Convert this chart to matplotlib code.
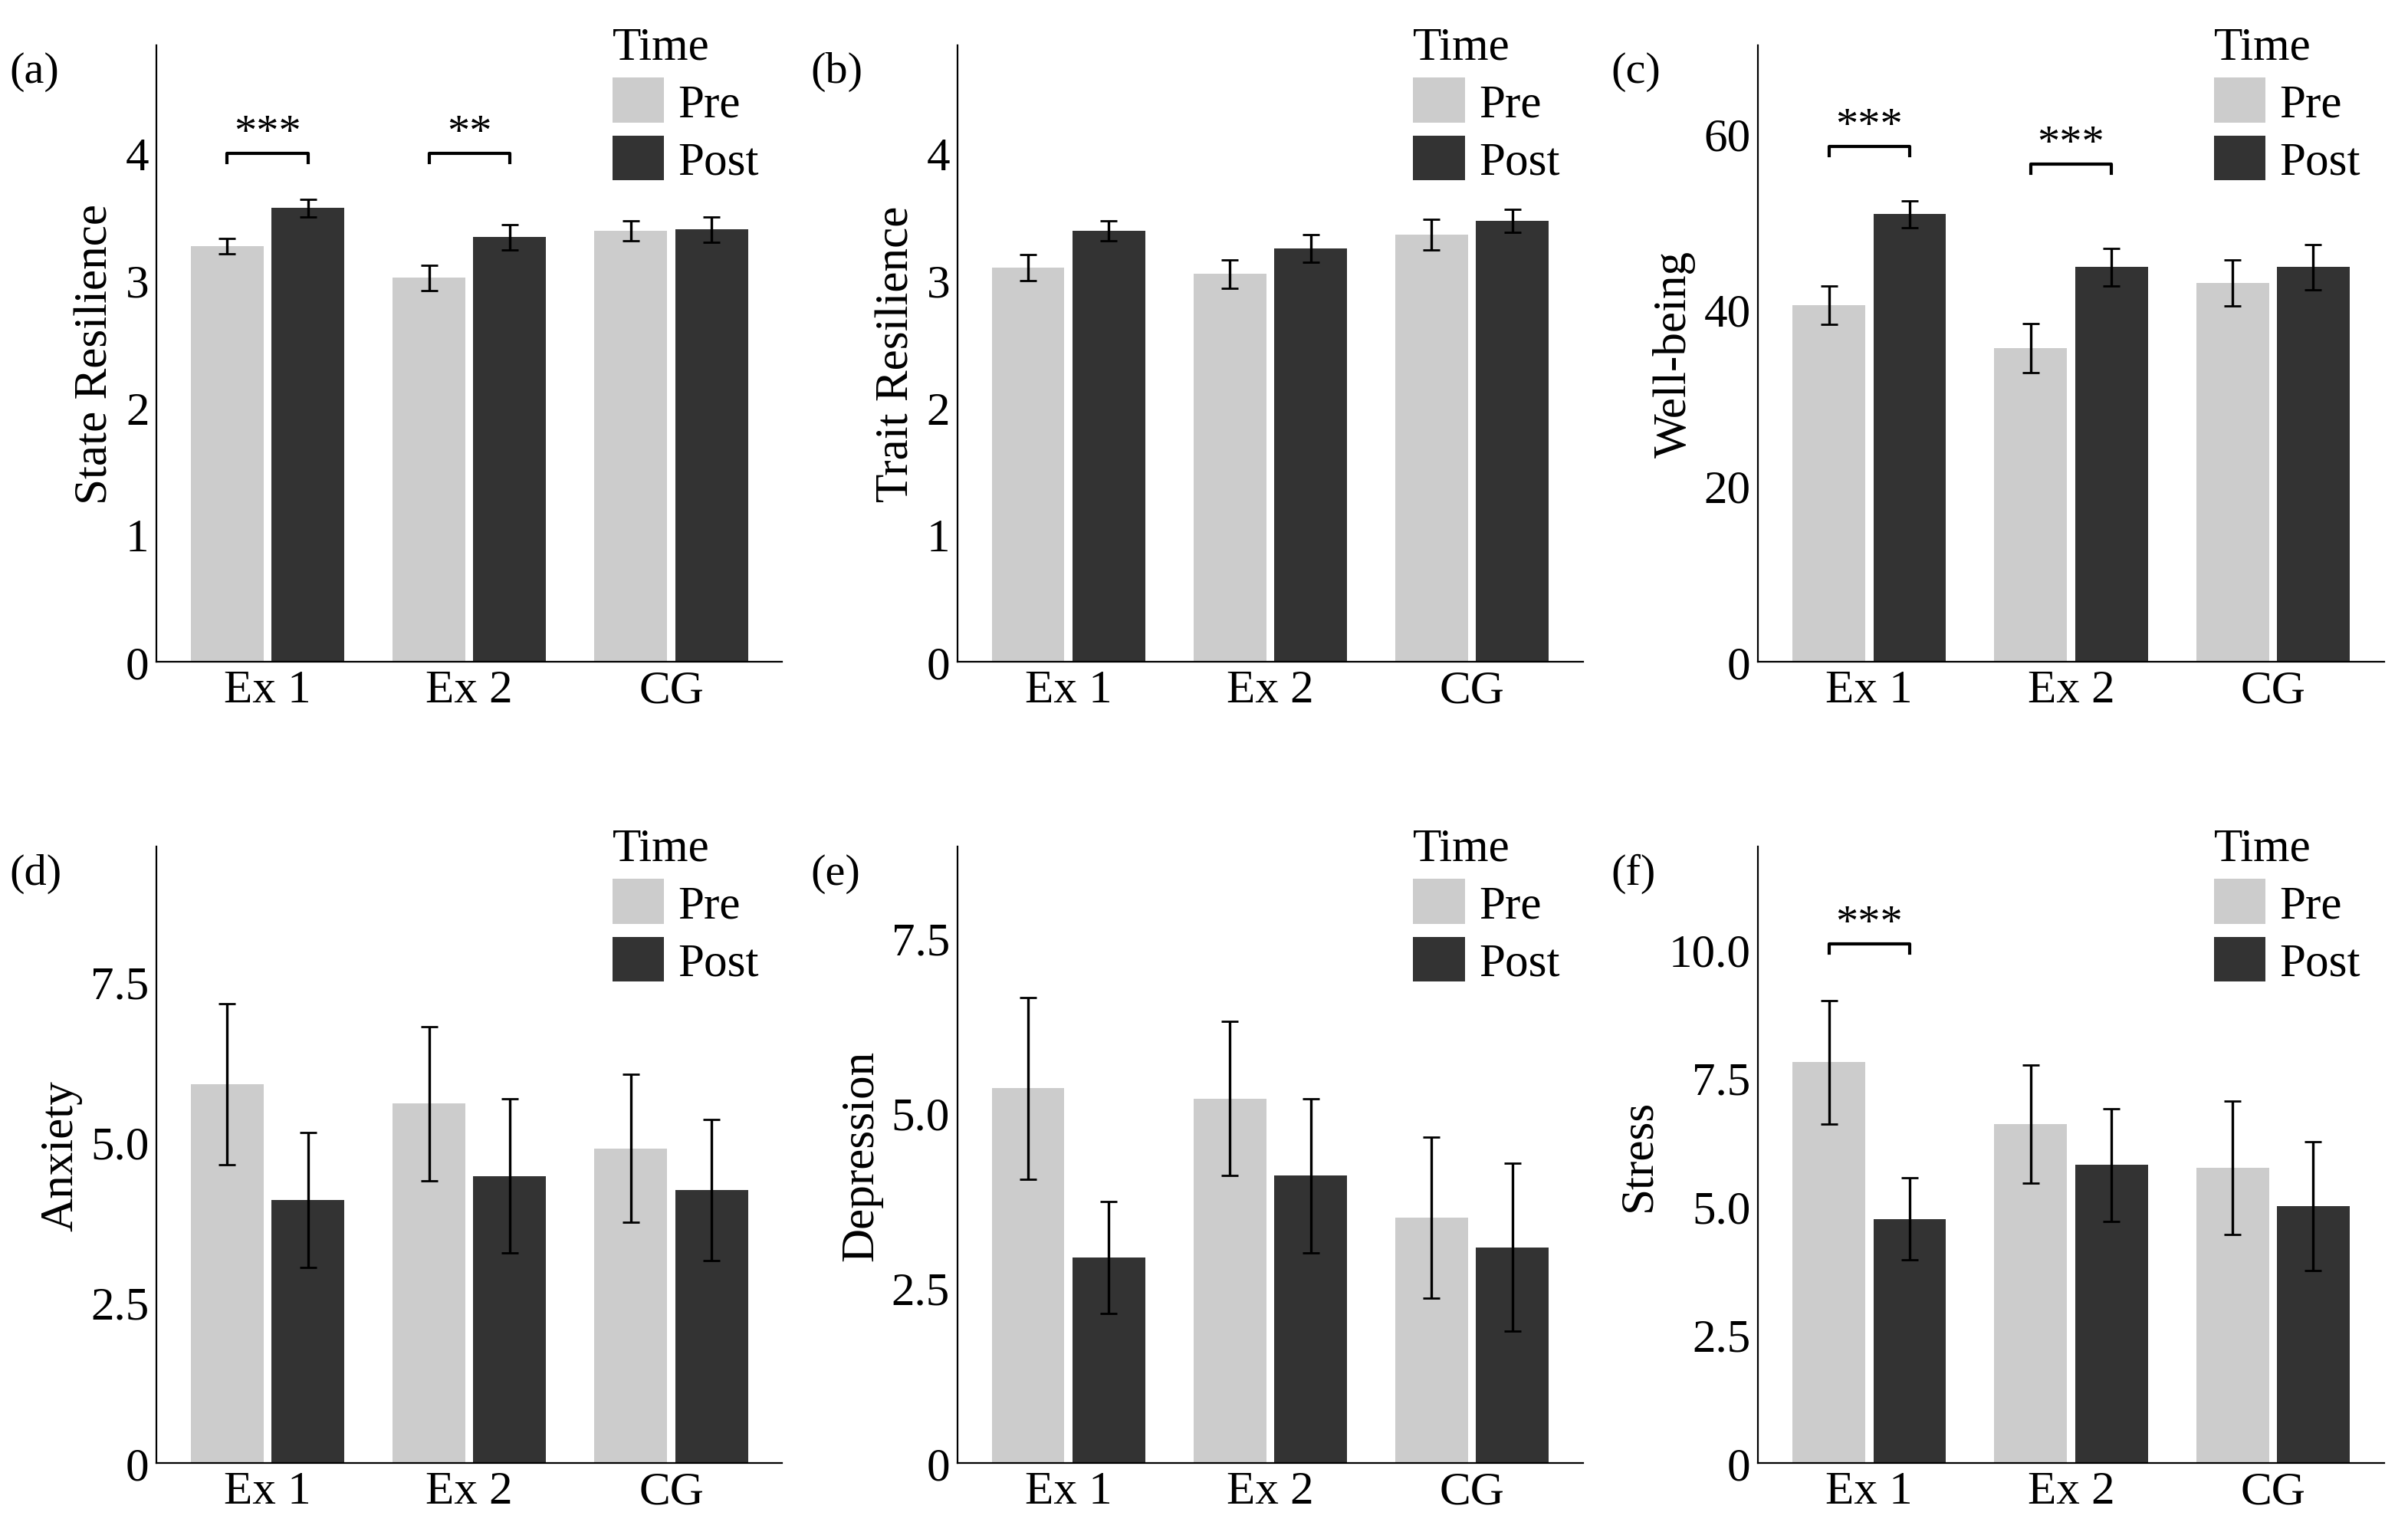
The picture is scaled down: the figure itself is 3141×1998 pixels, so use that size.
import matplotlib.pyplot as plt
import numpy as np

plt.rcParams['font.family'] = ['Liberation Serif', 'DejaVu Serif']
plt.rcParams['font.size'] = 22

groups = ['Ex 1', 'Ex 2', 'CG']
labels = ['(a)', '(b)', '(c)', '(d)', '(e)', '(f)']
ylabels = ['State Resilience', 'Trait Resilience', 'Well-being', 'Anxiety', 'Depression', 'Stress']

pre_mean = [[3.27, 3.02, 3.39], [3.10, 3.05, 3.36], [40.5, 35.6, 43.0],
            [5.9, 5.6, 4.9], [5.35, 5.2, 3.5], [7.8, 6.6, 5.75]]
pre_err = [[0.06, 0.10, 0.08], [0.10, 0.11, 0.12], [2.2, 2.8, 2.6],
           [1.25, 1.2, 1.15], [1.3, 1.1, 1.15], [1.2, 1.15, 1.3]]
post_mean = [[3.57, 3.34, 3.40], [3.39, 3.25, 3.47], [50.8, 44.8, 44.8],
             [4.1, 4.47, 4.25], [2.93, 4.1, 3.08], [4.75, 5.8, 5.0]]
post_err = [[0.07, 0.10, 0.10], [0.08, 0.11, 0.09], [1.5, 2.1, 2.6],
            [1.05, 1.2, 1.1], [0.8, 1.1, 1.2], [0.8, 1.1, 1.25]]

ylims = [4.85, 4.85, 70, 9.6, 8.8, 12.0]
yticks = [[0, 1, 2, 3, 4], [0, 1, 2, 3, 4], [0, 20, 40, 60],
          [0, 2.5, 5, 7.5], [0, 2.5, 5, 7.5], [0, 2.5, 5, 7.5, 10]]
ytl = [None, None, None, ['0', '2.5', '5.0', '7.5'], ['0', '2.5', '5.0', '7.5'],
       ['0', '2.5', '5.0', '7.5', '10.0']]
# significance: (panel, group index, y, text)
sig = [(0, 0, 4.0, '***'), (0, 1, 4.0, '**'), (2, 0, 58.5, '***'),
       (2, 1, 56.5, '***'), (5, 0, 10.1, '***')]

fig, axes = plt.subplots(2, 3, figsize=(15.705, 9.995), dpi=200)
axes = axes.flatten()
x = np.arange(3)
w = 0.36
for i, ax in enumerate(axes):
    ax.bar(x - 0.2, pre_mean[i], w, color='#cccccc', label='Pre')
    ax.bar(x + 0.2, post_mean[i], w, color='#333333', label='Post')
    ax.errorbar(x - 0.2, pre_mean[i], yerr=pre_err[i], fmt='none', ecolor='black', capsize=4, lw=1.2)
    ax.errorbar(x + 0.2, post_mean[i], yerr=post_err[i], fmt='none', ecolor='black', capsize=4, lw=1.2)
    ax.set_ylim(0, ylims[i])
    ax.set_xlim(-0.55, 2.55)
    ax.set_yticks(yticks[i])
    if ytl[i]:
        ax.set_yticklabels(ytl[i])
    ax.set_xticks(x)
    ax.set_xticklabels(groups)
    ax.set_ylabel(ylabels[i], labelpad=4)
    ax.spines['top'].set_visible(False)
    ax.spines['right'].set_visible(False)
    ax.tick_params(length=0)
    ax.text(-0.235, 0.94, labels[i], transform=ax.transAxes, fontsize=21)
    leg = ax.legend(title='Time', frameon=False, loc='upper right', bbox_to_anchor=(1.03, 1.1),
                    handlelength=1.1, handleheight=1.1, handletextpad=0.3, labelspacing=0.2)
    leg._legend_box.align = 'left'
for p, g, y, t in sig:
    ax = axes[p]
    d = ylims[p] * 0.015
    ax.plot([g - 0.2, g - 0.2, g + 0.2, g + 0.2], [y - d, y, y, y - d], color='black', lw=1.5)
    ax.text(g, y, t, ha='center', va='bottom', fontsize=21)

plt.subplots_adjust(left=0.065, right=0.99, bottom=0.045, top=0.97, wspace=0.28, hspace=0.3)
plt.savefig('out.png')
